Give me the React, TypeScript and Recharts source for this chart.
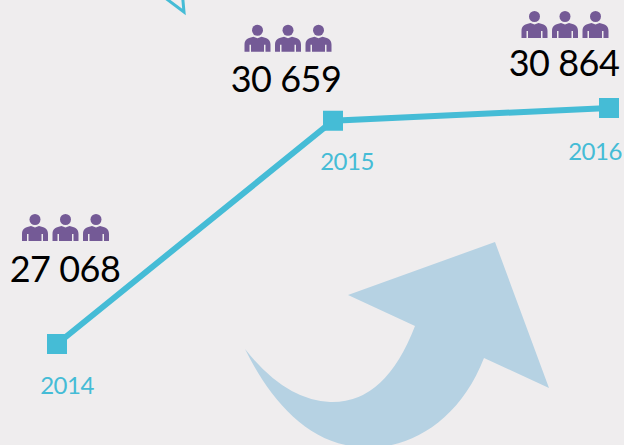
import React from 'react';
import { Line, LineChart, XAxis, YAxis } from 'recharts';

const years = ['2014', '2015', '2016'];
const employees = [27068, 30659, 30864];
const valueLabels = ['27 068', '30 659', '30 864'];

const chartData = years.map((year, i) => ({ year, employees: employees[i], label: valueLabels[i] }));

// label placement relative to each point
const valueOffsets = [{ dx: 8, dy: -62 }, { dx: -47, dy: -29 }, { dx: -45, dy: -32 }];
const iconOffsets = [{ dx: 8.5, dy: -130 }, { dx: -45, dy: -96 }, { dx: -44, dy: -97 }];
const yearOffsets = [{ dx: 10, dy: 50 }, { dx: 14, dy: 49 }, { dx: -14, dy: 52 }];

const CYAN = '#45bcd6';
const PURPLE = '#745a96';
const FONT = 'Lato, "Open Sans", sans-serif';

// one person glyph, origin at the top centre of the head
function Person({ x, y }: { x: number; y: number }) {
  return (
    <g transform={`translate(${x},${y})`} fill={PURPLE}>
      <circle cx={0} cy={5.5} r={5.5} />
      <path d="M-13 27 L-13 20 C-13 14.5 -9 13 -4 12 L0 13.5 L4 12 C9 13 13 14.5 13 20 L13 27 L8 27 L8 20 L6.5 20 L6.5 27 L-6.5 27 L-6.5 20 L-8 20 L-8 27 Z" />
    </g>
  );
}

function PointLabel(props: any) {
  const { x, y, index } = props;
  const value = valueOffsets[index];
  const icon = iconOffsets[index];
  const yearPos = yearOffsets[index];
  return (
    <g>
      {[-30.5, 0, 30.5].map((shift) => (
        <Person key={shift} x={x + icon.dx + shift} y={y + icon.dy} />
      ))}
      <text x={x + value.dx} y={y + value.dy} textAnchor="middle" fontSize={36} letterSpacing={-0.5} fontFamily={FONT} fill="#000000">
        {valueLabels[index]}
      </text>
      <text x={x + yearPos.dx} y={y + yearPos.dy} textAnchor="middle" fontSize={24} letterSpacing={-0.5} fontFamily={FONT} fill={CYAN}>
        {years[index]}
      </text>
    </g>
  );
}

function SquareDot(props: any) {
  const { cx, cy, index } = props;
  return <rect key={index} x={cx - 10} y={cy - 10} width={20} height={20} fill={CYAN} />;
}

export default function App() {
  return (
    <div style={{ position: 'absolute', left: 0, top: 0, width: 624, height: 445, background: '#efedee', overflow: 'hidden' }}>
      {/* decorative arrows behind the chart */}
      <svg width={624} height={445} style={{ position: 'absolute', left: 0, top: 0 }}>
        <path
          d="M245 349 Q285 400 330 402 Q385 404 415 326 L348 295 L495 242 L549 388 L484 358 C460 420 410 450 365 447 C310 447 270 400 245 349 Z"
          fill="#b6d2e3"
        />
        <path d="M164 -3 L184 12 L182 -10" fill="none" stroke={CYAN} strokeWidth={3} />
      </svg>
      <div style={{ position: 'absolute', left: 0, top: 0 }}>
        <LineChart width={624} height={445} data={chartData} margin={{ top: 108, right: 15, bottom: 101, left: 57 }}>
          <XAxis dataKey="year" hide scale="point" />
          <YAxis hide domain={[27068, 30864]} />
          <Line
            dataKey="employees"
            type="linear"
            stroke={CYAN}
            strokeWidth={6}
            dot={<SquareDot />}
            activeDot={false}
            label={<PointLabel />}
            isAnimationActive={false}
          />
        </LineChart>
      </div>
    </div>
  );
}
